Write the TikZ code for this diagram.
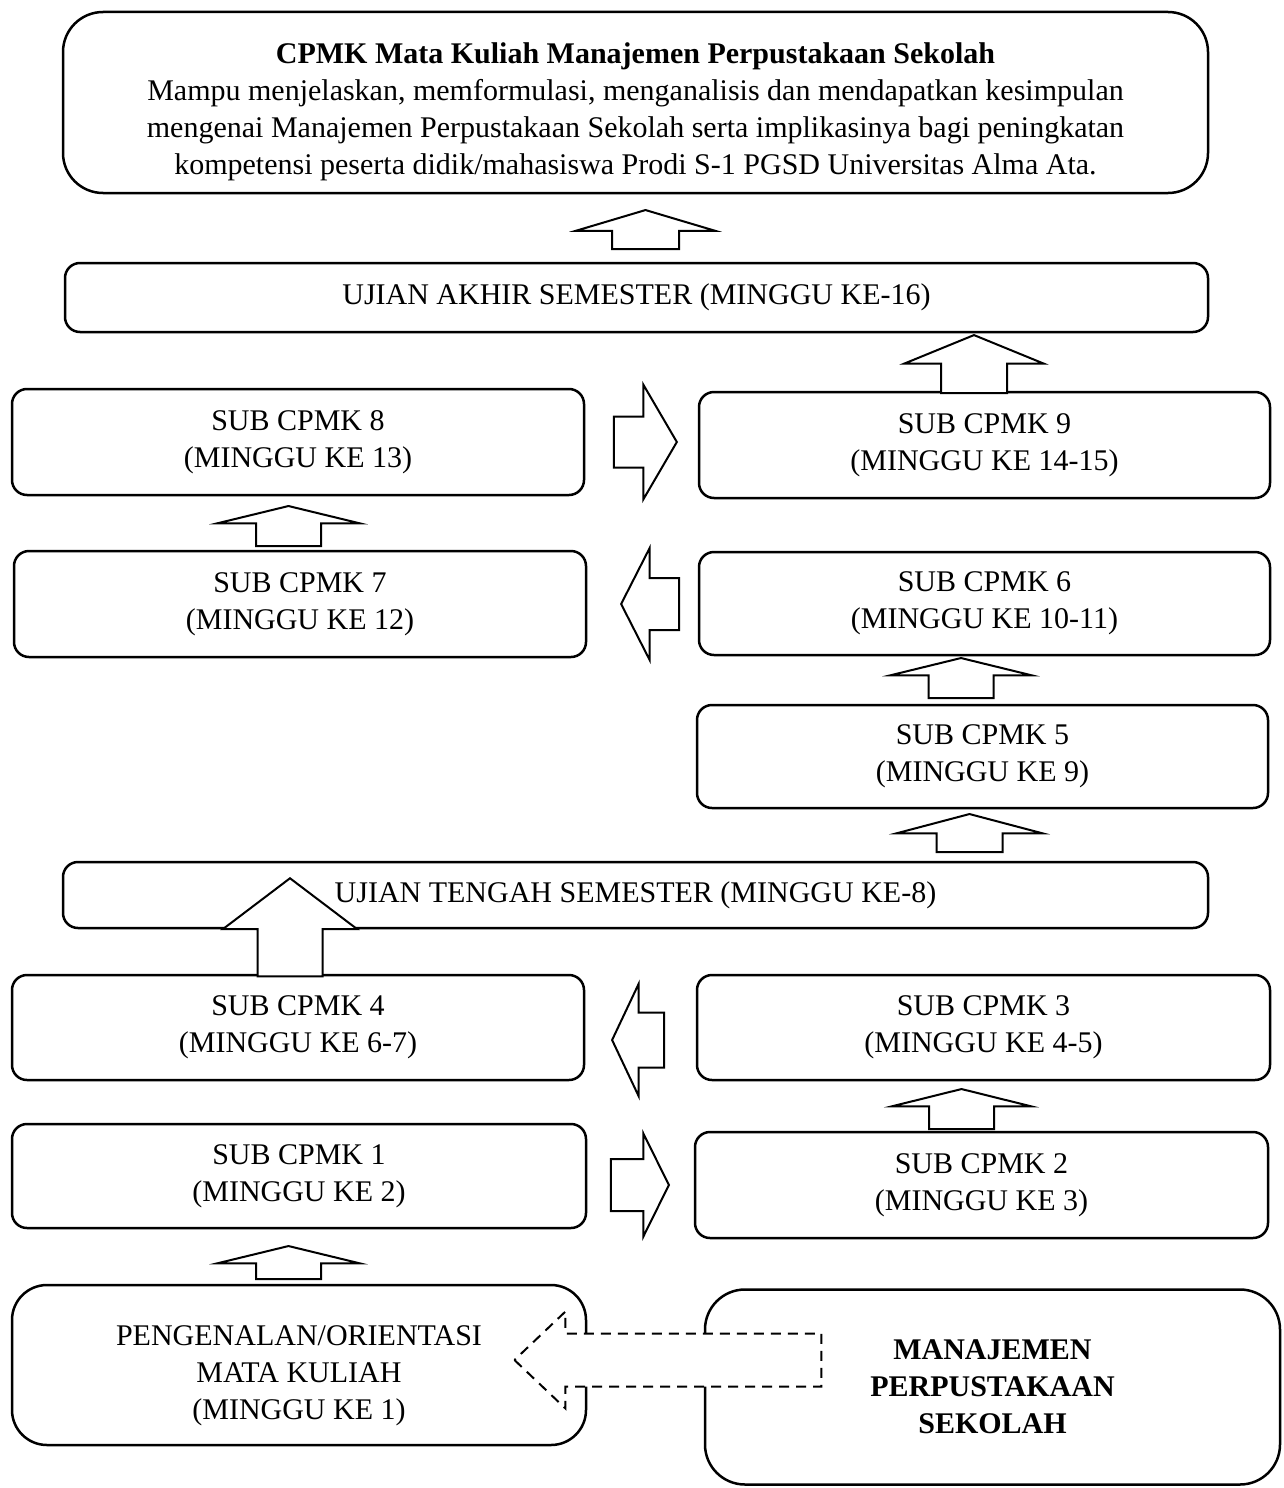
\documentclass[tikz,border=0pt]{standalone}
\usepackage{fontspec}
\setmainfont{Liberation Serif}
\usetikzlibrary{shapes.arrows}
\tikzstyle{box} = [draw, line width=2.5pt, rounded corners=15pt, align=center, inner sep=0pt, font=\fontsize{30}{37}\selectfont]
\tikzstyle{bigbox} = [box, rounded corners=40pt]
\tikzstyle{blk} = [single arrow, draw, fill=white, line width=2pt, inner sep=0pt, minimum width=0pt, anchor=tip]

\begin{document}
\begin{tikzpicture}[x=1pt, y=-1pt]
    \useasboundingbox (0,0) rectangle (1283,1488);
    % boxes
    \node (cpmk) [bigbox, minimum width=1145pt, minimum height=181pt] at (635.5,102.5)
        {\rule{0pt}{39pt}\textbf{CPMK Mata Kuliah Manajemen Perpustakaan Sekolah}\\
         Mampu menjelaskan, memformulasi, menganalisis dan mendapatkan kesimpulan\\
         mengenai Manajemen Perpustakaan Sekolah serta implikasinya bagi peningkatan\\
         kompetensi peserta didik/mahasiswa Prodi S-1 PGSD Universitas Alma Ata.};
    \node (uas) [box, minimum width=1143pt, minimum height=69pt] at (636.5,297.5) {UJIAN AKHIR SEMESTER (MINGGU KE-16)};
    \node (sub8) [box, minimum width=572pt, minimum height=106pt] at (298,442) {SUB CPMK 8\\(MINGGU KE 13)};
    \node (sub9) [box, minimum width=571pt, minimum height=106pt] at (984.5,445) {SUB CPMK 9\\(MINGGU KE 14-15)};
    \node (sub7) [box, minimum width=572pt, minimum height=106pt] at (300,604) {SUB CPMK 7\\(MINGGU KE 12)};
    \node (sub6) [box, minimum width=571pt, minimum height=103pt] at (984.5,603.5) {SUB CPMK 6\\(MINGGU KE 10-11)};
    \node (sub5) [box, minimum width=571pt, minimum height=103pt] at (982.5,756.5) {SUB CPMK 5\\(MINGGU KE 9)};
    \node (uts) [box, minimum width=1145pt, minimum height=66pt] at (635.5,895) {UJIAN TENGAH SEMESTER (MINGGU KE-8)};
    \node (sub4) [box, minimum width=572pt, minimum height=105pt] at (298,1027.5) {SUB CPMK 4\\(MINGGU KE 6-7)};
    \node (sub3) [box, minimum width=573pt, minimum height=105pt] at (983.5,1027.5) {SUB CPMK 3\\(MINGGU KE 4-5)};
    \node (sub1) [box, minimum width=574pt, minimum height=104pt] at (299,1176) {SUB CPMK 1\\(MINGGU KE 2)};
    \node (sub2) [box, minimum width=573pt, minimum height=106pt] at (981.5,1185) {SUB CPMK 2\\(MINGGU KE 3)};
    \node (peng) [box, rounded corners=35pt, minimum width=574pt, minimum height=160pt] at (299,1365)
        {\rule{0pt}{41pt}PENGENALAN/ORIENTASI\\MATA KULIAH\\(MINGGU KE 1)};
    \node (man) [bigbox, minimum width=575pt, minimum height=195pt] at (992.5,1387)
        {\textbf{MANAJEMEN}\\\textbf{PERPUSTAKAAN}\\\textbf{SEKOLAH}};
    % block arrows
    \node (arr1) [blk, rotate=90, minimum height=33pt, inner ysep=31.5pt, single arrow head extend=38.5pt, single arrow tip angle=152.7] at (288.5,1245) {};
    \node (arr12) [blk, minimum height=58pt, inner ysep=25pt, single arrow head extend=25.5pt, single arrow tip angle=127.3] at (670,1185) {};
    \node (arr23) [blk, rotate=90, minimum height=40pt, inner ysep=31.5pt, single arrow head extend=37pt, single arrow tip angle=152.1] at (961.5,1088) {};
    \node (arr34) [blk, rotate=180, minimum height=52pt, inner ysep=26.5pt, single arrow head extend=28.5pt, single arrow tip angle=129.4] at (611,1040) {};
    \node (arr4) [blk, rotate=90, minimum height=98pt, inner ysep=31.5pt, single arrow head extend=34.5pt, single arrow tip angle=105.7] at (290,877) {};
    \node (arr5) [blk, rotate=90, minimum height=38pt, inner ysep=32pt, single arrow head extend=40pt, single arrow tip angle=150.4] at (969.5,813) {};
    \node (arr56) [blk, rotate=90, minimum height=40pt, inner ysep=31.5pt, single arrow head extend=38pt, single arrow tip angle=152.5] at (961,657) {};
    \node (arr67) [blk, rotate=180, minimum height=58pt, inner ysep=25pt, single arrow head extend=30pt, single arrow tip angle=126] at (620,604) {};
    \node (arr78) [blk, rotate=90, minimum height=40pt, inner ysep=31.5pt, single arrow head extend=38.5pt, single arrow tip angle=152.7] at (288.5,505) {};
    \node (arr89) [blk, minimum height=63pt, inner ysep=24.5pt, single arrow head extend=32pt, single arrow tip angle=119.4] at (678,442) {};
    \node (arr9) [blk, rotate=90, minimum height=58pt, inner ysep=32pt, single arrow head extend=36.5pt, single arrow tip angle=135.5] at (974,334) {};
    \node (arruas) [blk, rotate=90, minimum height=39pt, inner ysep=32.5pt, single arrow head extend=36pt, single arrow tip angle=146.8] at (645.5,209) {};
    \node (arrman) [blk, dashed, dash pattern=on 10pt off 7pt, rotate=180, minimum height=307pt, inner ysep=25.5pt, single arrow head extend=22pt, single arrow tip angle=87.1] at (513,1360) {};
\end{tikzpicture}
\end{document}
